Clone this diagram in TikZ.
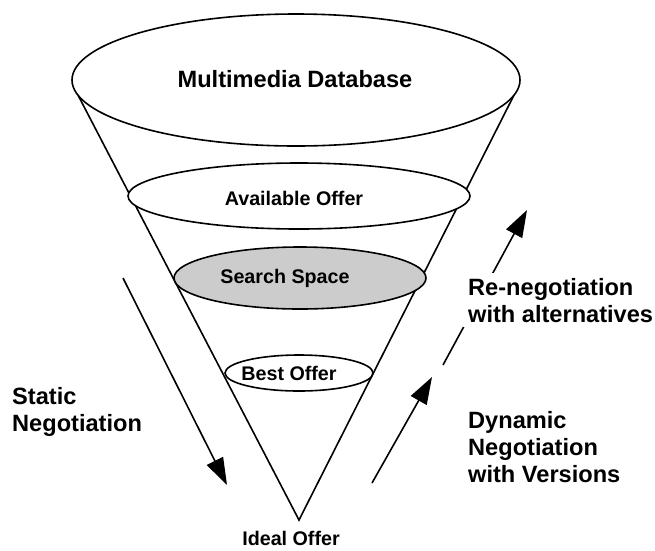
\documentclass[tikz,border=0pt]{standalone}
\usepackage{fontspec}
\setmainfont{Liberation Sans}
\usetikzlibrary{shapes.geometric,arrows.meta}
\begin{document}
\begin{tikzpicture}[x=1pt,y=-1pt,
  cone/.style={line width=1.6pt},
  disc/.style={ellipse,draw,line width=1.6pt,inner sep=0pt,outer sep=0pt,fill=white},
  big/.style={font=\fontsize{23.6}{27}\selectfont\bfseries, align=left, inner sep=0pt},
  small/.style={font=\fontsize{19.7}{22}\selectfont\bfseries, inner sep=0pt},
  arr/.style={line width=1.6pt,-{Triangle[length=27pt,width=18pt]}}]
\useasboundingbox (0,0) rectangle (655,550);
\coordinate (apex) at (299,520);
\node[disc, minimum width=448pt, minimum height=132pt] (db) at (296,80) {};
\draw[cone] (db.184) -- (apex) -- (db.356);
\node[disc, minimum width=342pt, minimum height=66pt] (ao) at (299,196) {};
\node[disc, fill={rgb,255:red,204;green,204;blue,204}, minimum width=252pt, minimum height=62pt] (ss) at (300,278) {};
\node[disc, minimum width=148pt, minimum height=36pt] (bo) at (299,373) {};
\node[big, anchor=base] (dbt) at (295,87) {Multimedia Database};
\node[small, anchor=base] (aot) at (294,205) {Available Offer};
\node[small, anchor=base] (sst) at (285,283) {Search Space};
\node[small, anchor=base] (bot) at (289,380) {Best Offer};
\node[small, anchor=base] (ideal) at (291,545) {Ideal Offer};
\coordinate (s1) at (123,278);
\coordinate (s2) at (227,485);
\coordinate (d1) at (372,483);
\coordinate (d2) at (432,377);
\coordinate (r1) at (443,365);
\coordinate (r2) at (527,210);
\draw[arr] (s1) -- (s2);
\draw[arr] (d1) -- (d2);
\draw[arr] (r1) -- (r2);
\node[big, anchor=base west] (stat) at (12,431) {Static\\Negotiation};
\node[big, anchor=base west, fill=white, inner sep=5pt] (reneg) at (463,322) {Re-negotiation\\with alternatives};
\node[big, anchor=base west] (dyn) at (468,482) {Dynamic\\Negotiation\\with Versions};
\end{tikzpicture}
\end{document}
